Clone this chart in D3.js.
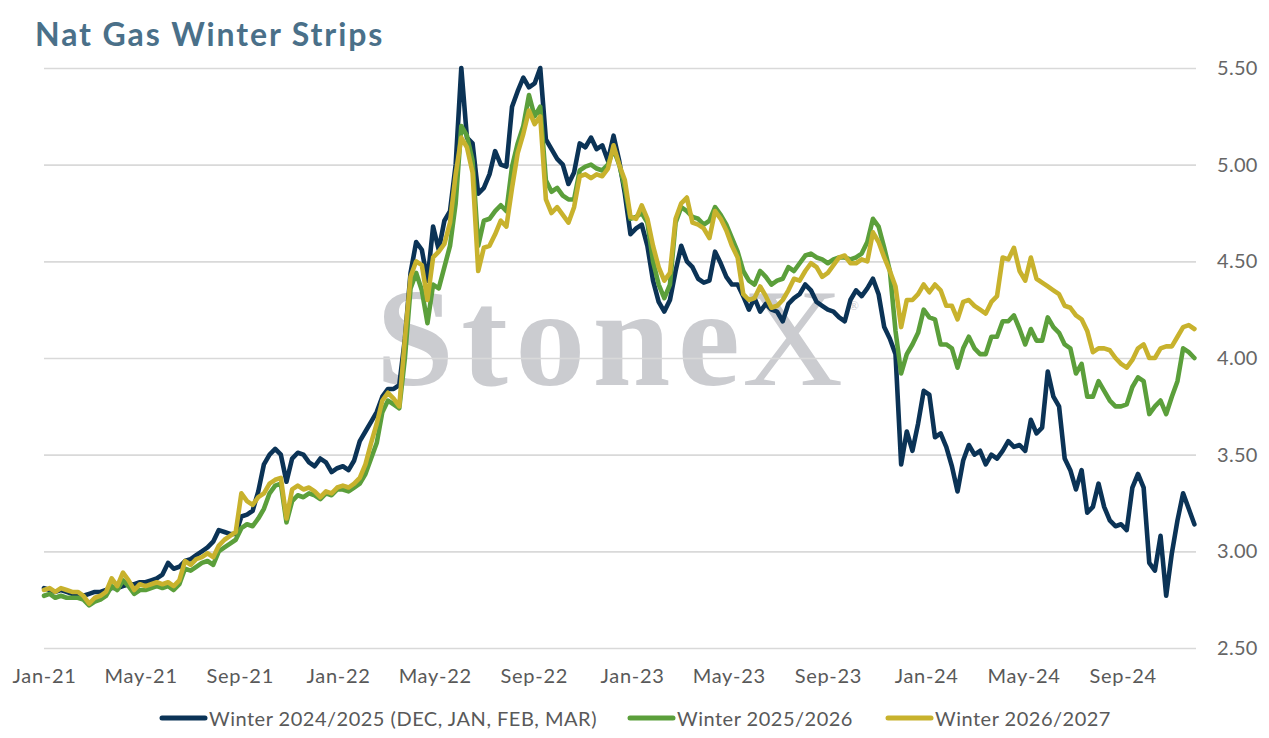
<!DOCTYPE html>
<html><head><meta charset="utf-8">
<script src="https://cdn.jsdelivr.net/npm/d3@7"></script>
<style>body{margin:0;background:#fff}svg{display:block}</style>
</head><body>
<svg id="chart" width="1269" height="738"></svg>
<script>
// ---------- DATA ----------
const chartTitle = "Nat Gas Winter Strips";
const startDate = "2021-01-01";          // first weekly observation
const stepDays = 7;                       // weekly observations
const xTickLabels = ["Jan-21","May-21","Sep-21","Jan-22","May-22","Sep-22","Jan-23","May-23","Sep-23","Jan-24","May-24","Sep-24"];
const yTickValues = [2.5,3.0,3.5,4.0,4.5,5.0,5.5];
const seriesNames = ["Winter 2024/2025 (DEC, JAN, FEB, MAR)","Winter 2025/2026","Winter 2026/2027"];
const seriesColors = ["#0b3356","#5b9f3b","#c8b22d"];

const winter2425 = [
2.81,2.80,2.79,2.80,2.79,2.78,2.78,2.77,2.78,2.79,
2.79,2.80,2.81,2.81,2.82,2.83,2.83,2.84,2.84,2.85,
2.86,2.88,2.94,2.91,2.92,2.95,2.96,2.98,3.00,3.02,
3.05,3.11,3.10,3.09,3.09,3.18,3.19,3.21,3.31,3.45,
3.50,3.53,3.50,3.36,3.48,3.51,3.50,3.46,3.44,3.48,
3.46,3.41,3.43,3.44,3.42,3.47,3.57,3.62,3.67,3.72,
3.80,3.84,3.84,3.86,4.10,4.44,4.60,4.56,4.40,4.68,
4.56,4.71,4.76,5.00,5.50,5.14,5.11,4.85,4.88,4.95,
5.07,5.00,4.99,5.30,5.38,5.45,5.40,5.42,5.50,5.13,
5.08,5.03,5.00,4.90,4.96,5.11,5.09,5.14,5.08,5.10,
5.02,5.15,5.02,4.85,4.64,4.67,4.69,4.58,4.40,4.29,
4.24,4.30,4.45,4.58,4.50,4.47,4.41,4.39,4.40,4.55,
4.49,4.42,4.38,4.38,4.32,4.25,4.31,4.24,4.28,4.25,
4.24,4.19,4.28,4.31,4.33,4.38,4.35,4.29,4.27,4.25,
4.24,4.21,4.19,4.30,4.35,4.32,4.36,4.41,4.33,4.16,
4.10,4.02,3.45,3.62,3.52,3.66,3.83,3.81,3.59,3.61,
3.54,3.44,3.31,3.47,3.55,3.50,3.52,3.45,3.50,3.48,
3.52,3.57,3.54,3.55,3.52,3.68,3.61,3.64,3.93,3.80,
3.75,3.48,3.42,3.32,3.42,3.20,3.23,3.35,3.23,3.16,
3.13,3.14,3.11,3.33,3.40,3.33,2.94,2.90,3.08,2.77,
2.99,3.16,3.30,3.22,3.14];

const winter2526 = [
2.77,2.78,2.76,2.77,2.76,2.76,2.76,2.75,2.72,2.74,
2.75,2.77,2.82,2.80,2.85,2.82,2.78,2.80,2.80,2.81,
2.82,2.81,2.82,2.80,2.83,2.91,2.90,2.92,2.94,2.95,
2.93,3.00,3.02,3.04,3.06,3.12,3.14,3.13,3.17,3.22,
3.30,3.34,3.35,3.15,3.26,3.29,3.28,3.30,3.29,3.27,
3.30,3.29,3.32,3.32,3.31,3.33,3.35,3.40,3.48,3.56,
3.72,3.78,3.76,3.74,4.00,4.36,4.44,4.35,4.18,4.38,
4.36,4.47,4.58,4.80,5.20,5.15,5.02,4.58,4.71,4.72,
4.76,4.79,4.76,4.99,5.11,5.20,5.36,5.25,5.30,4.92,
4.86,4.88,4.84,4.82,4.82,4.97,4.99,5.00,4.98,4.97,
5.00,5.08,5.00,4.88,4.72,4.73,4.75,4.70,4.50,4.38,
4.31,4.38,4.70,4.78,4.76,4.73,4.72,4.69,4.71,4.78,
4.74,4.69,4.62,4.55,4.45,4.40,4.38,4.45,4.42,4.38,
4.40,4.41,4.47,4.45,4.49,4.53,4.54,4.52,4.51,4.49,
4.51,4.52,4.52,4.51,4.52,4.54,4.60,4.72,4.68,4.57,
4.45,4.14,3.92,4.02,4.07,4.13,4.25,4.21,4.20,4.07,
4.07,4.05,3.95,4.05,4.11,4.05,4.02,4.02,4.11,4.11,
4.19,4.19,4.22,4.15,4.07,4.15,4.09,4.09,4.21,4.16,
4.13,4.07,4.05,3.92,3.97,3.80,3.80,3.88,3.83,3.78,
3.75,3.75,3.76,3.85,3.90,3.88,3.71,3.75,3.78,3.71,
3.80,3.88,4.05,4.03,4.00];

const winter2627 = [
2.80,2.81,2.79,2.81,2.80,2.79,2.79,2.77,2.73,2.76,
2.77,2.79,2.86,2.82,2.89,2.85,2.80,2.83,2.82,2.83,
2.84,2.83,2.84,2.82,2.85,2.95,2.93,2.96,2.97,2.99,
2.97,3.03,3.06,3.08,3.10,3.30,3.26,3.24,3.28,3.30,
3.35,3.37,3.38,3.17,3.32,3.34,3.32,3.33,3.31,3.28,
3.31,3.30,3.33,3.34,3.33,3.35,3.38,3.45,3.56,3.66,
3.78,3.82,3.79,3.75,4.10,4.42,4.50,4.48,4.30,4.52,
4.55,4.59,4.70,4.95,5.14,5.09,4.96,4.45,4.57,4.58,
4.64,4.71,4.68,4.88,5.06,5.16,5.28,5.21,5.25,4.82,
4.75,4.78,4.74,4.70,4.78,4.94,4.95,4.93,4.95,4.94,
4.98,5.10,5.00,4.92,4.73,4.72,4.79,4.72,4.58,4.47,
4.40,4.44,4.72,4.80,4.83,4.70,4.69,4.67,4.62,4.76,
4.72,4.66,4.58,4.52,4.33,4.30,4.31,4.37,4.32,4.26,
4.27,4.30,4.35,4.41,4.40,4.45,4.49,4.47,4.42,4.44,
4.48,4.52,4.53,4.49,4.49,4.51,4.50,4.65,4.60,4.52,
4.45,4.37,4.16,4.30,4.30,4.33,4.38,4.34,4.38,4.35,
4.27,4.27,4.20,4.29,4.30,4.27,4.25,4.23,4.29,4.32,
4.52,4.51,4.57,4.45,4.40,4.52,4.41,4.39,4.37,4.35,
4.33,4.27,4.26,4.22,4.20,4.14,4.03,4.05,4.05,4.04,
4.00,3.97,3.95,3.99,4.05,4.07,4.00,4.00,4.05,4.06,
4.06,4.11,4.16,4.17,4.15];

// ---------- CHART ----------
const W = 1269, H = 738;
const margin = {left: 44, right: 1196, top: 68, bottom: 648};
const svg = d3.select("#chart");
const font = "Lato, 'Open Sans', sans-serif";
const textColor = "#595959";

const parseDay = d3.timeParse("%Y-%m-%d");
const parseTick = d3.timeParse("%b-%y");
const t0 = parseDay(startDate);
const dates = winter2425.map((_, i) => d3.timeDay.offset(t0, i * stepDays));

const x = d3.scaleTime()
  .domain([t0, parseDay("2024-12-01")])
  .range([margin.left, margin.right]);
const y = d3.scaleLinear().domain([2.5, 5.5]).range([margin.bottom, margin.top]);

svg.append("rect").attr("width", W).attr("height", H).attr("fill", "#fff");

// title
svg.append("text").attr("x", 35).attr("y", 46)
  .attr("font-family", "Lato, sans-serif").attr("font-weight", 700)
  .attr("font-size", 32).attr("letter-spacing", 1.9)
  .attr("fill", "#4a7089").text(chartTitle);

// watermark
const wm = svg.append("g").attr("fill", "#cbccd0").attr("font-family", "'Liberation Serif', 'DejaVu Serif', serif");
wm.append("text").attr("x", 376).attr("y", 385).attr("font-size", 140).attr("font-weight", 700)
  .attr("textLength", 364).attr("lengthAdjust", "spacing").text("Stone");
wm.append("text").attr("x", 742).attr("y", 385).attr("font-size", 140).text("X");
wm.append("text").attr("x", 849).attr("y", 310).attr("font-size", 13).text("®");

// gridlines + y axis (right)
const yAxis = d3.axisRight(y).tickValues(yTickValues)
  .tickSize(-(margin.right - margin.left)).tickFormat(d3.format(".2f"));
const gy = svg.append("g").attr("transform", `translate(${margin.right},0)`).call(yAxis);
gy.select(".domain").remove();
gy.selectAll(".tick line").attr("stroke", "#d9d9d9").attr("stroke-width", 1.6);
gy.selectAll(".tick text").attr("x", 21).attr("fill", "#666666")
  .attr("font-family", font).attr("font-size", 20).attr("letter-spacing", 0.3);

// x axis
const xAxis = d3.axisBottom(x).tickValues(xTickLabels.map(parseTick))
  .tickSize(0).tickFormat(d3.timeFormat("%b-%y"));
const gx = svg.append("g").attr("transform", `translate(0,${margin.bottom})`).call(xAxis);
gx.select(".domain").remove();
gx.selectAll(".tick text").attr("y", 21).attr("fill", textColor)
  .attr("font-family", font).attr("font-size", 20).attr("letter-spacing", 0.7);

// lines
const allSeries = [winter2425, winter2526, winter2627];
const line = d3.line().x((d, i) => x(dates[i])).y(d => y(d)).curve(d3.curveLinear);
allSeries.forEach((vals, k) => {
  svg.append("path").datum(vals).attr("d", line)
    .attr("fill", "none").attr("stroke", seriesColors[k])
    .attr("stroke-width", 4.6).attr("stroke-linejoin", "round").attr("stroke-linecap", "round");
});

// legend
const legendY = 718;
const legendPos = [{lx: 162, tx: 209}, {lx: 630, tx: 677}, {lx: 888, tx: 935}];
seriesNames.forEach((name, k) => {
  const p = legendPos[k];
  svg.append("line").attr("x1", p.lx).attr("x2", p.lx + 43).attr("y1", legendY).attr("y2", legendY)
    .attr("stroke", seriesColors[k]).attr("stroke-width", 5).attr("stroke-linecap", "round");
  svg.append("text").attr("x", p.tx).attr("y", legendY + 8)
    .attr("font-family", font).attr("font-size", 20).attr("letter-spacing", 0.5)
    .attr("fill", textColor).text(name);
});
</script>
</body></html>
